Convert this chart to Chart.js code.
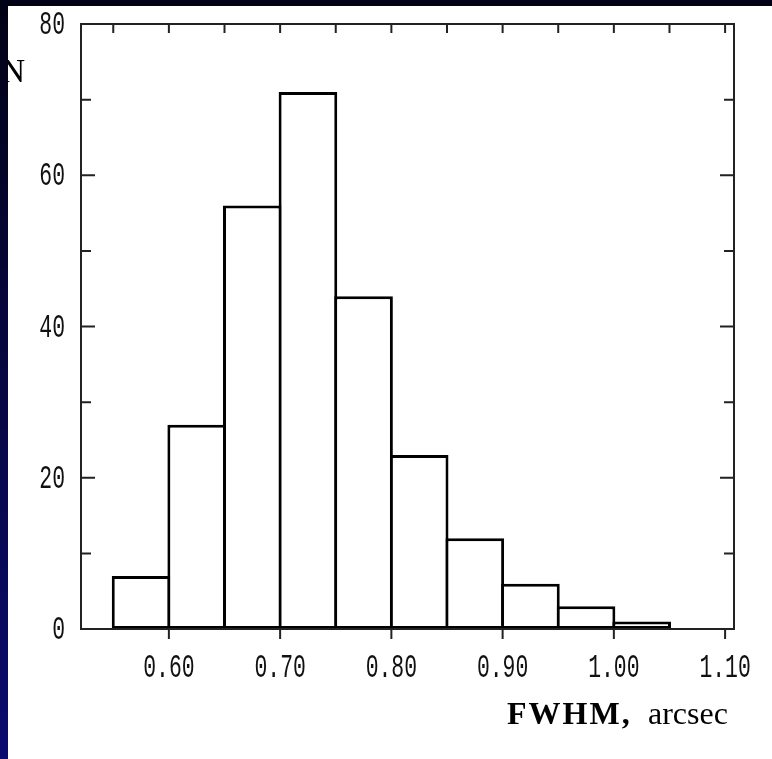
<!DOCTYPE html>
<html>
<head>
<meta charset="utf-8">
<script src="https://cdn.jsdelivr.net/npm/chart.js@4.4.0/dist/chart.umd.min.js"></script>
<style>
html, body { margin: 0; padding: 0; }
body {
    width: 772px; height: 759px; overflow: hidden; position: relative;
    background: linear-gradient(to bottom, #020216 0%, #06063e 45%, #0b0b70 100%);
}
#wrap { position: absolute; left: 8px; top: 6px; width: 764px; height: 753px; background: #fff; }
canvas { display: block; }
</style>
</head>
<body>
<div id="wrap"><canvas id="histo" width="764" height="753"></canvas></div>
<script>
// histogram bins (centres of 0.05 arcsec bins) and counts
var binCenters = [0.575, 0.625, 0.675, 0.725, 0.775, 0.825, 0.875, 0.925, 0.975, 1.025];
var counts = [7, 27, 56, 71, 44, 23, 12, 6, 3, 1];

var xTickValues = [0.60, 0.70, 0.80, 0.90, 1.00, 1.10];
var xTickLabels = ['0.60', '0.70', '0.80', '0.90', '1.00', '1.10'];
var xTopTicks = [0.55, 0.60, 0.65, 0.70, 0.75, 0.80, 0.85, 0.90, 0.95, 1.00, 1.05, 1.10];
var yTickValues = [0, 20, 40, 60, 80];
var yTickLabels = ['0', '20', '40', '60', '80'];
var yMinorTicks = [10, 30, 50, 70];

// frame, tick marks and all the text, drawn through the chart scales
var frame = {
    id: 'frame',
    afterDatasetsDraw: function (chart) {
        var ctx = chart.ctx;
        var a = chart.chartArea;
        var xs = chart.scales.x;
        var ys = chart.scales.y;
        ctx.save();
        ctx.strokeStyle = '#222';
        ctx.lineWidth = 2;
        ctx.strokeRect(a.left, a.top, a.right - a.left, a.bottom - a.top);
        ctx.beginPath();
        yTickValues.concat(yMinorTicks).forEach(function (v) {
            var y = ys.getPixelForValue(v);
            var len = yTickValues.indexOf(v) >= 0 ? 14 : 10;
            ctx.moveTo(a.left, y); ctx.lineTo(a.left + len, y);
            ctx.moveTo(a.right, y); ctx.lineTo(a.right - len, y);
        });
        xTopTicks.forEach(function (v) {
            var x = xs.getPixelForValue(v);
            ctx.moveTo(x, a.top); ctx.lineTo(x, a.top + 9);
        });
        xTickValues.forEach(function (v) {
            var x = xs.getPixelForValue(v);
            ctx.moveTo(x, a.bottom); ctx.lineTo(x, a.bottom + 10);
        });
        ctx.stroke();

        // tick labels (narrow, spaced digits)
        ctx.fillStyle = '#111';
        ctx.font = '34px "Liberation Mono"';
        ctx.textBaseline = 'middle';
        ctx.textAlign = 'center';
        xTickValues.forEach(function (v, i) {
            ctx.save();
            ctx.translate(xs.getPixelForValue(v), a.bottom + 39);
            ctx.scale(0.63, 1);
            ctx.fillText(xTickLabels[i], 0, 0);
            ctx.restore();
        });
        ctx.textAlign = 'right';
        yTickValues.forEach(function (v, i) {
            ctx.save();
            ctx.translate(a.left - 16, ys.getPixelForValue(v) + 1);
            ctx.scale(0.63, 1);
            ctx.fillText(yTickLabels[i], 0, 0);
            ctx.restore();
        });

        // axis titles
        ctx.fillStyle = '#000';
        ctx.textBaseline = 'alphabetic';
        ctx.textAlign = 'right';
        ctx.font = '33px "Liberation Serif"';
        ctx.fillText('N', 17, 76);
        ctx.textAlign = 'left';
        ctx.font = 'bold 32px "Liberation Serif"';
        ctx.letterSpacing = '2px';
        ctx.fillText('FWHM,', 499, 718);
        ctx.letterSpacing = '0px';
        ctx.font = '32px "Liberation Serif"';
        ctx.fillText('arcsec', 640, 718);
        ctx.restore();
    }
};

var chart = new Chart(document.getElementById('histo').getContext('2d'), {
    type: 'bar',
    data: {
        datasets: [{
            data: binCenters.map(function (c, i) { return { x: c, y: counts[i] }; }),
            backgroundColor: '#fff',
            borderColor: '#000',
            borderWidth: 3,
            borderSkipped: false,
            barPercentage: 1.054,
            categoryPercentage: 1
        }]
    },
    options: {
        responsive: false,
        animation: false,
        devicePixelRatio: 1,
        events: [],
        layout: { padding: { left: 0, top: 18, right: 38, bottom: 0 } },
        plugins: { legend: { display: false }, tooltip: { enabled: false } },
        scales: {
            x: {
                type: 'linear', min: 0.521, max: 1.108, offset: false,
                grid: { display: false }, border: { display: false },
                ticks: { display: false },
                afterFit: function (s) { s.height = 130; s.paddingLeft = 0; s.paddingRight = 0; }
            },
            y: {
                min: 0, max: 80,
                grid: { display: false }, border: { display: false },
                ticks: { display: false },
                afterFit: function (s) { s.width = 73; }
            }
        }
    },
    plugins: [frame]
});
</script>
</body>
</html>
